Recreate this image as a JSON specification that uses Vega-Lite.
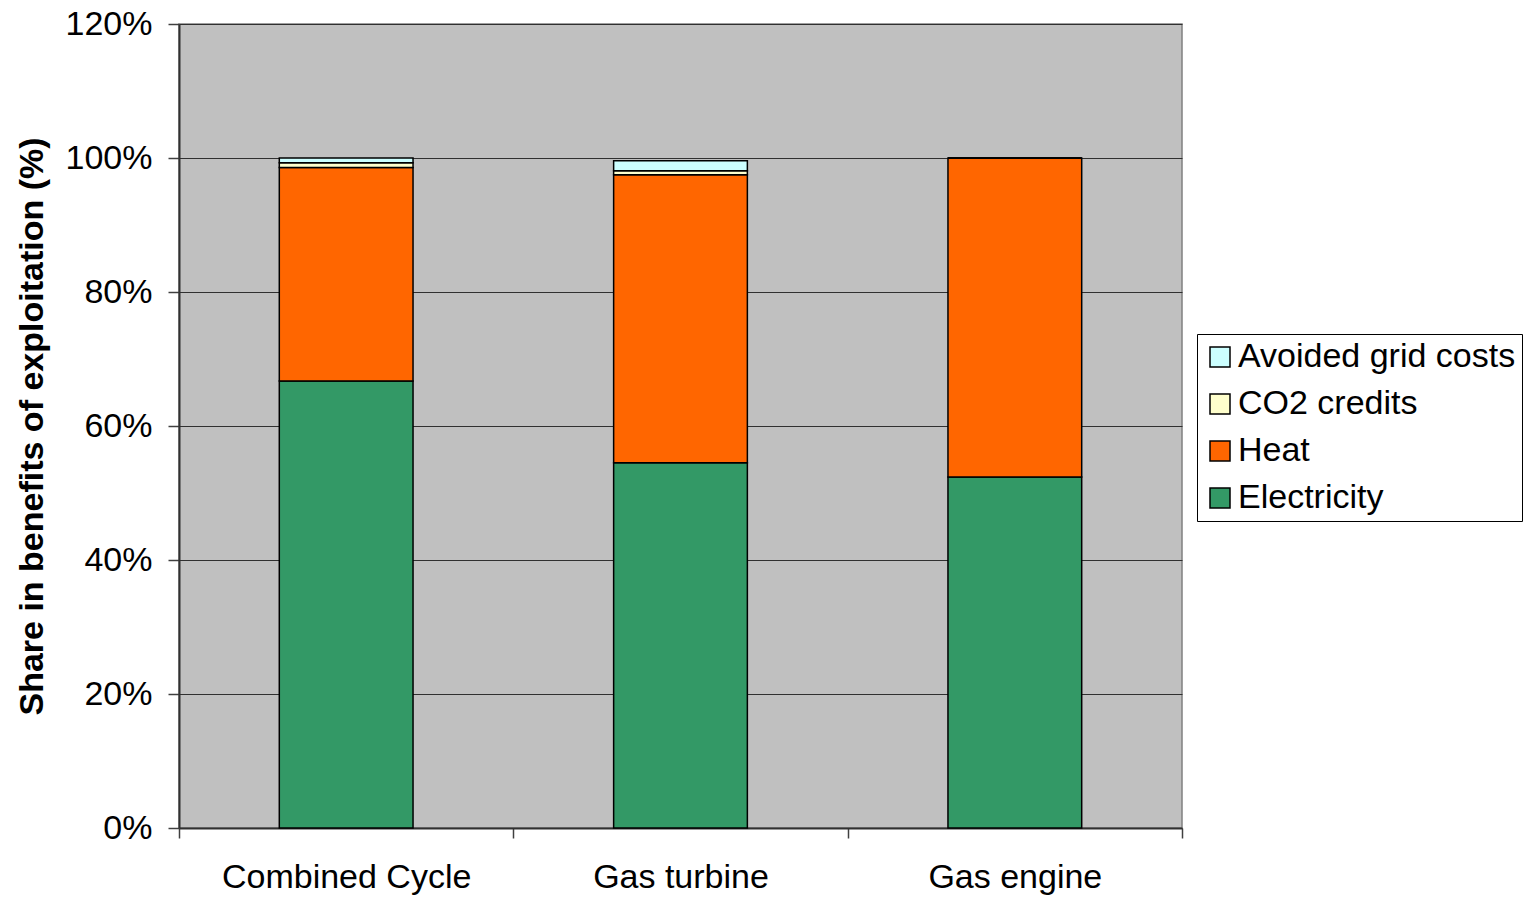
{
  "$schema": "https://vega.github.io/schema/vega-lite/v6.json",
  "width": 1003,
  "height": 804,
  "autosize": {"type": "none"},
  "padding": {"left": 179, "top": 24, "right": 343, "bottom": 70},
  "background": "white",
  "config": {
    "font": "Liberation Sans",
    "view": {"fill": "#C0C0C0", "stroke": "#808080", "strokeWidth": 1.5}
  },
  "data": {
    "values": [
      {"tech": "Combined Cycle", "component": "Electricity", "share": 0.667},
      {"tech": "Combined Cycle", "component": "Heat", "share": 0.319},
      {"tech": "Combined Cycle", "component": "CO2 credits", "share": 0.007},
      {"tech": "Combined Cycle", "component": "Avoided grid costs", "share": 0.007},
      {"tech": "Gas turbine", "component": "Electricity", "share": 0.545},
      {"tech": "Gas turbine", "component": "Heat", "share": 0.430},
      {"tech": "Gas turbine", "component": "CO2 credits", "share": 0.006},
      {"tech": "Gas turbine", "component": "Avoided grid costs", "share": 0.015},
      {"tech": "Gas engine", "component": "Electricity", "share": 0.524},
      {"tech": "Gas engine", "component": "Heat", "share": 0.476},
      {"tech": "Gas engine", "component": "CO2 credits", "share": 0.0},
      {"tech": "Gas engine", "component": "Avoided grid costs", "share": 0.0}
    ]
  },
  "transform": [
    {"calculate": "indexof(['Electricity','Heat','CO2 credits','Avoided grid costs'], datum.component)", "as": "ord"}
  ],
  "mark": {"type": "bar", "stroke": "black", "strokeWidth": 1.5, "width": {"band": 0.4}},
  "encoding": {
    "x": {
      "field": "tech",
      "type": "nominal",
      "sort": ["Combined Cycle", "Gas turbine", "Gas engine"],
      "scale": {"paddingInner": 0, "paddingOuter": 0},
      "axis": {
        "title": null,
        "labelAngle": 0,
        "labelFontSize": 34,
        "labelLimit": 500,
        "labelColor": "black",
        "labelPadding": 22,
        "tickBand": "extent",
        "tickSize": 10,
        "tickColor": "#404040",
        "tickWidth": 1.5,
        "domainColor": "#303030",
        "domainWidth": 2
      }
    },
    "y": {
      "field": "share",
      "type": "quantitative",
      "stack": "zero",
      "scale": {"domain": [0, 1.2], "nice": false},
      "axis": {
        "title": "Share in benefits of exploitation (%)",
        "titleFontSize": 34,
        "titleFontWeight": "bold",
        "titleColor": "black",
        "titleAngle": -90,
        "titleX": -147,
        "titleY": 402,
        "titleAlign": "center",
        "titleBaseline": "middle",
        "values": [0, 0.2, 0.4, 0.6, 0.8, 1.0, 1.2],
        "format": ".0%",
        "labelFontSize": 34,
        "labelColor": "black",
        "labelPadding": 16,
        "tickSize": 11,
        "tickColor": "#404040",
        "tickWidth": 1.5,
        "domainColor": "#303030",
        "domainWidth": 2,
        "grid": true,
        "gridColor": "#303030",
        "gridWidth": 1
      }
    },
    "color": {
      "field": "component",
      "type": "nominal",
      "scale": {
        "domain": ["Avoided grid costs", "CO2 credits", "Heat", "Electricity"],
        "range": ["#CCFFFF", "#FFFFCC", "#FF6600", "#339966"]
      },
      "legend": {
        "title": null,
        "orient": "none",
        "legendX": 1018,
        "legendY": 310,
        "strokeColor": "black",
        "fillColor": "white",
        "padding": 6,
        "labelFontSize": 34,
        "labelLimit": 500,
        "labelColor": "black",
        "labelOffset": 1,
        "rowPadding": 13,
        "symbolType": "square",
        "symbolSize": 400,
        "symbolStrokeColor": "black",
        "symbolStrokeWidth": 1.5,
        "symbolOpacity": 1
      }
    },
    "order": {"field": "ord", "type": "quantitative", "sort": "ascending"}
  }
}
